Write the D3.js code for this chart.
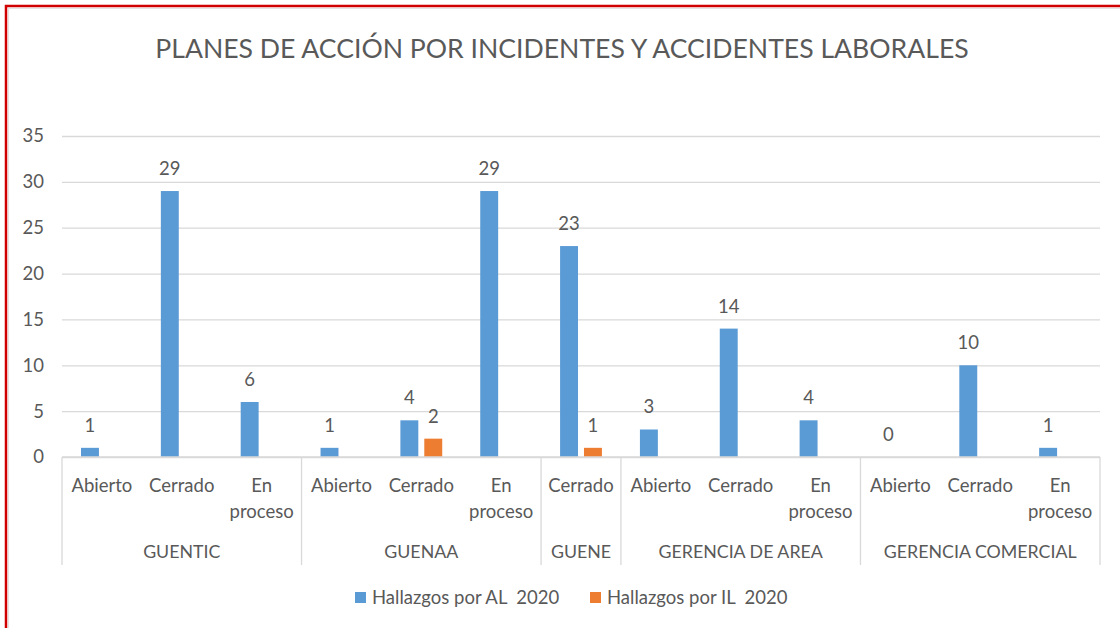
<!DOCTYPE html>
<html>
<head>
<meta charset="utf-8">
<script src="https://cdn.jsdelivr.net/npm/d3@7"></script>
<style>
  html, body { margin: 0; padding: 0; background: #ffffff; }
  svg { display: block; }
  text { font-family: Lato, "Open Sans", sans-serif; fill: #595959; }
</style>
</head>
<body>
<svg id="chart" width="1120" height="628"></svg>
<script>
// Groups (outer level) and their statuses (inner level)
const groups = ["GUENTIC", "GUENAA", "GUENE", "GERENCIA DE AREA", "GERENCIA COMERCIAL"];
const statuses = [
  ["Abierto", "Cerrado", "En proceso"],
  ["Abierto", "Cerrado", "En proceso"],
  ["Cerrado"],
  ["Abierto", "Cerrado", "En proceso"],
  ["Abierto", "Cerrado", "En proceso"]
];
const seriesNames = ["Hallazgos por AL  2020", "Hallazgos por IL  2020"];
// Values per group, in status order (null = no value)
const hallazgosAL = [[1, 29, 6], [1, 4, 29], [23], [3, 14, 4], [0, 10, 1]];
const hallazgosIL = [[null, null, null], [null, 2, null], [1], [null, null, null], [null, null, null]];
const yTicks = [0, 5, 10, 15, 20, 25, 30, 35];
const colors = ["#5b9bd5", "#ed7d31"];
const chartTitle = "PLANES DE ACCIÓN POR INCIDENTES Y ACCIDENTES LABORALES";

// Flatten into leaf rows
const leaves = [];
groups.forEach((g, gi) => {
  statuses[gi].forEach((s, si) => {
    leaves.push({ id: gi + "|" + si, group: g, gi, status: s,
      values: [hallazgosAL[gi][si], hallazgosIL[gi][si]] });
  });
});

const svg = d3.select("#chart");
const plot = { left: 62, right: 1100, top: 136, bottom: 457 };

// Chart frame: red outline on left and top, faint inner border
svg.append("rect").attr("x", 8.5).attr("y", 8.5).attr("width", 1130).attr("height", 640)
  .attr("fill", "none").attr("stroke", "#e3e3e3").attr("stroke-width", 1);
svg.append("path").attr("d", "M6,628 V6 H1120")
  .attr("fill", "none").attr("stroke", "#d00000").attr("stroke-width", 2.5);

// Title
svg.append("text")
  .attr("x", 562).attr("y", 58)
  .attr("text-anchor", "middle")
  .style("font-size", "26.6px")
  .text(chartTitle);

const x0 = d3.scaleBand().domain(leaves.map(d => d.id))
  .range([plot.left, plot.right]).padding(0);
const bw = x0.bandwidth();
const x1 = d3.scaleBand().domain([0, 1])
  .range([bw * 0.238, bw * 0.762]).paddingInner(0.25);
const y = d3.scaleLinear().domain([0, 35]).range([plot.bottom, plot.top]);

// Gridlines and y labels
const yAxis = d3.axisLeft(y).tickValues(yTicks).tickSize(-(plot.right - plot.left)).tickPadding(18);
const gy = svg.append("g").attr("transform", `translate(${plot.left},0)`).call(yAxis);
gy.select(".domain").remove();
gy.selectAll(".tick line").attr("stroke", "#d9d9d9").attr("stroke-width", 1.3);
gy.selectAll(".tick text").attr("fill", "#595959")
  .style("font-family", "Lato, sans-serif").style("font-size", "18.5px");

// Bars
const leafG = svg.append("g").selectAll("g").data(leaves).join("g")
  .attr("transform", d => `translate(${x0(d.id)},0)`);

leafG.selectAll("rect")
  .data(d => d.values.map((v, i) => ({ v, i })).filter(e => e.v !== null))
  .join("rect")
  .attr("x", e => x1(e.i))
  .attr("width", x1.bandwidth())
  .attr("y", e => y(e.v))
  .attr("height", e => y(0) - y(e.v))
  .attr("fill", e => colors[e.i]);

// Value labels
leafG.selectAll("text.val")
  .data(d => d.values.map((v, i) => ({ v, i })).filter(e => e.v !== null))
  .join("text")
  .attr("class", "val")
  .attr("x", e => x1(e.i) + x1.bandwidth() / 2)
  .attr("y", e => y(e.v) - 16)
  .attr("text-anchor", "middle")
  .style("font-size", "18.5px")
  .text(e => e.v);

// Category axis: baseline, group separators, labels
const axisG = svg.append("g");
axisG.append("line")
  .attr("x1", plot.left).attr("x2", plot.right)
  .attr("y1", plot.bottom).attr("y2", plot.bottom)
  .attr("stroke", "#d9d9d9").attr("stroke-width", 1.3);

const groupBounds = groups.map((g, gi) => {
  const ids = leaves.filter(l => l.gi === gi).map(l => l.id);
  return { g, x0: x0(ids[0]), x1: x0(ids[ids.length - 1]) + bw };
});
const sepX = [groupBounds[0].x0].concat(groupBounds.map(b => b.x1));
axisG.selectAll("line.sep").data(sepX).join("line")
  .attr("class", "sep")
  .attr("x1", d => d).attr("x2", d => d)
  .attr("y1", plot.bottom).attr("y2", 565)
  .attr("stroke", "#d9d9d9").attr("stroke-width", 1.3);

axisG.selectAll("text.leaf").data(leaves).join("text")
  .attr("class", "leaf")
  .attr("text-anchor", "middle")
  .attr("transform", d => `translate(${x0(d.id) + bw / 2},492)`)
  .style("font-size", "18.5px")
  .each(function (d) {
    const lines = d.status === "En proceso" ? ["En", "proceso"] : [d.status];
    d3.select(this).selectAll("tspan").data(lines).join("tspan")
      .attr("x", 0).attr("y", (l, i) => i * 26).text(l => l);
  });

axisG.selectAll("text.grp").data(groupBounds).join("text")
  .attr("class", "grp")
  .attr("x", d => (d.x0 + d.x1) / 2).attr("y", 558)
  .attr("text-anchor", "middle")
  .style("font-size", "17.8px")
  .text(d => d.g);

// Legend
const legend = svg.append("g");
const legendX = [355, 590];
seriesNames.forEach((name, i) => {
  legend.append("rect").attr("x", legendX[i]).attr("y", 592)
    .attr("width", 11).attr("height", 11).attr("fill", colors[i]);
  legend.append("text").attr("x", legendX[i] + 17).attr("y", 604)
    .style("font-size", "18.5px").style("white-space", "pre")
    .attr("xml:space", "preserve")
    .text(name);
});
</script>
</body>
</html>
